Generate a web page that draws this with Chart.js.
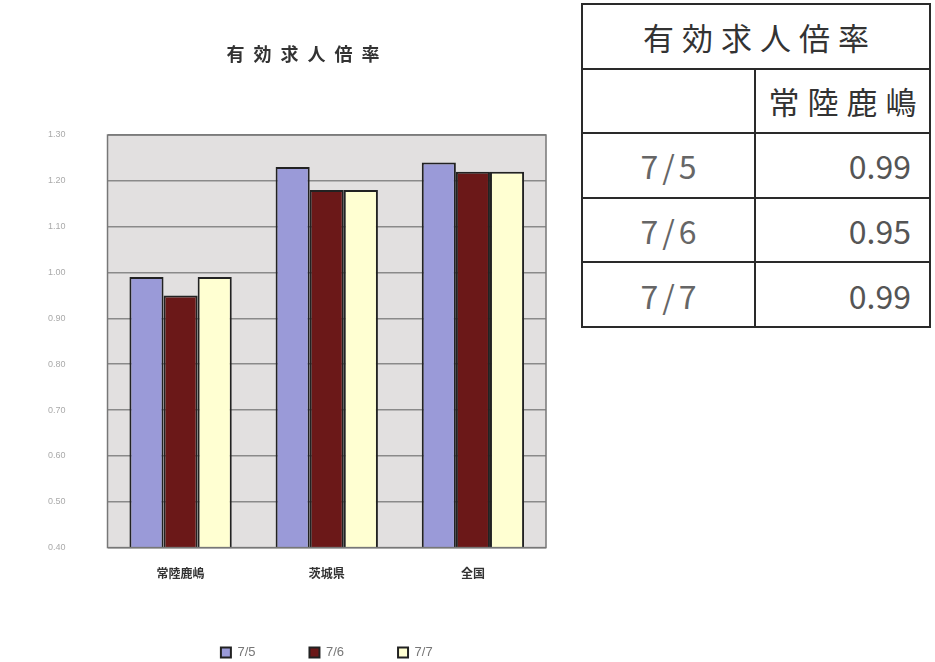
<!DOCTYPE html>
<html>
<head>
<meta charset="utf-8">
<script src="https://cdn.jsdelivr.net/npm/chart.js@4"></script>
<style>
    body { margin: 0; background: #fff; font-family: "Noto Sans CJK JP", sans-serif; overflow: hidden; }
    #chartBox { position: absolute; left: 0; top: 0; width: 570px; height: 669px; }
    #chartTitle { position: absolute; left: 203px; top: 40px; width: 200px; text-align: center; font-size: 18px; line-height: 26px;
                  font-weight: bold; color: #333; letter-spacing: 9px; padding-left: 9px; box-sizing: border-box; }
    #rateTable { position: absolute; left: 581px; top: 3px; width: 348px; border-collapse: collapse; table-layout: fixed; }
    #rateTable td { border: 2px solid #2a2a2a; height: 62.6px; font-size: 32px; color: #555; padding: 0 18px; }
    #rateTable .head { text-align: center; color: #333; font-size: 31px; letter-spacing: 8px; padding: 0 0 0 8px; }
    #rateTable .date { text-align: center; color: #666; letter-spacing: 4px; padding: 0 0 0 4px; }
    #rateTable .val { text-align: right; color: #555; }
</style>
</head>
<body>
<div id="chartBox"><canvas id="chart"></canvas></div>
<div id="chartTitle"></div>
<table id="rateTable"></table>
<script>
const chartTitle = "有効求人倍率";
const areas = ["常陸鹿嶋", "茨城県", "全国"];
const dates = ["7/5", "7/6", "7/7"];
const rate75 = [0.99, 1.23, 1.24];
const rate76 = [0.95, 1.18, 1.22];
const rate77 = [0.99, 1.18, 1.22];
const seriesColors = ["#9a9ad8", "#6b1818", "#ffffd2"];

document.getElementById('chartTitle').innerText = chartTitle;

// --- テーブル ---
const tableRows = [rate75[0], rate76[0], rate77[0]];
document.getElementById('rateTable').innerHTML =
    `<colgroup><col style="width:173px"><col style="width:175px"></colgroup>` +
    `<tr><td class="head" colspan="2">${chartTitle}</td></tr>` +
    `<tr><td class="date"></td><td class="head">${areas[0]}</td></tr>` +
    tableRows.map((v, i) => `<tr><td class="date">${dates[i]}</td><td class="val">${v.toFixed(2)}</td></tr>`).join('');

// --- グラフ背景 ---
const plotBg = {
    id: 'plotBg',
    beforeDraw(c) {
        const a = c.chartArea, ctx = c.ctx;
        ctx.save();
        ctx.fillStyle = "#e2e0e0";
        ctx.fillRect(a.left, a.top, a.right - a.left, a.bottom - a.top);
        ctx.restore();
    },
    afterDatasetsDraw(c) {
        const a = c.chartArea, ctx = c.ctx;
        ctx.save();
        ctx.strokeStyle = "#777";
        ctx.lineWidth = 1.5;
        ctx.strokeRect(a.left, a.top, a.right - a.left, a.bottom - a.top);
        ctx.restore();
    }
};

new Chart(document.getElementById("chart"), {
    type: 'bar',
    data: {
        labels: areas,
        datasets: [rate75, rate76, rate77].map((d, i) => ({
            label: dates[i], data: d,
            backgroundColor: seriesColors[i],
            borderColor: "#222", borderWidth: 2,
            categoryPercentage: 0.7, barPercentage: 1.0
        }))
    },
    options: {
        responsive: true, maintainAspectRatio: false, animation: false,
        layout: { padding: { left: 6, right: 24, top: 135, bottom: 0 } },
        plugins: {
            title: { display: false },
            legend: {
                position: 'bottom', fullSize: false,
                labels: { boxWidth: 10, boxHeight: 10, color: "#777", font: { size: 13 }, padding: 54 }
            },
            tooltip: { enabled: false }
        },
        scales: {
            x: {
                grid: { display: false },
                border: { display: false },
                ticks: { color: "#333", font: { size: 12, weight: 'bold', family: "Noto Sans CJK JP" }, padding: 11 }
            },
            y: {
                min: 0.4, max: 1.3,
                grid: { color: "#8a8a8a", lineWidth: 1.5, drawTicks: false },
                border: { display: false },
                ticks: { stepSize: 0.1, color: "#aaa", font: { size: 9 }, padding: 42, callback: v => v.toFixed(2) }
            }
        }
    },
    plugins: [plotBg]
});
</script>
</body>
</html>
